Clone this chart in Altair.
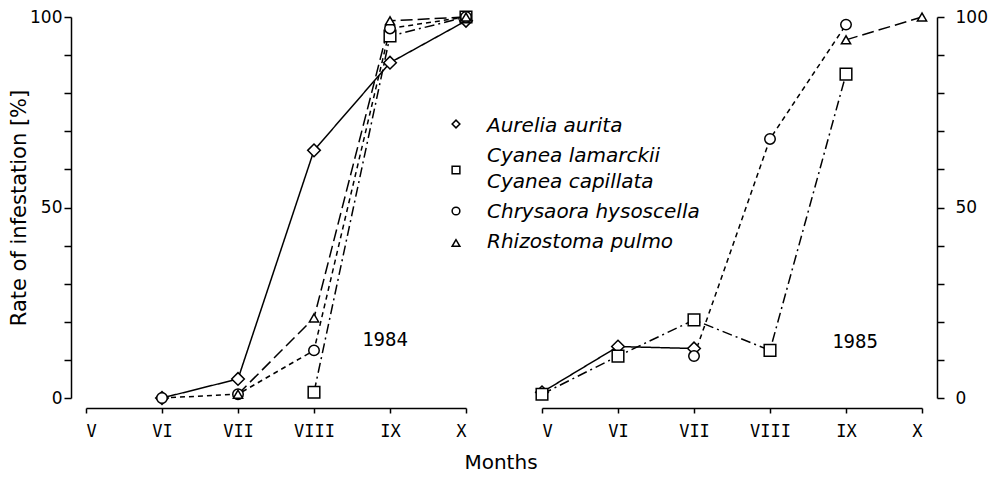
import altair as alt
import pandas as pd

# ---------------- data ----------------
MONTH_LABELS = ["V", "VI", "VII", "VIII", "IX", "X"]
MONTH_NUM = [5, 6, 7, 8, 9, 10]
SPECIES = ["Aurelia aurita", "Cyanea", "Chrysaora hysoscella", "Rhizostoma pulmo"]
LEGEND_LABELS = ["Aurelia aurita", "Cyanea lamarckii", "Cyanea capillata",
                 "Chrysaora hysoscella", "Rhizostoma pulmo"]

# values per month V..X (None = no observation)
aurelia_1984 = [None, 0, 5, 65, 88, 99]
cyanea_1984 = [None, None, None, 1.5, 95, 100]
chrysaora_1984 = [None, 0, 1, 12.5, 97, 100]
rhizostoma_1984 = [None, None, 1, 21, 99, 100]

aurelia_1985 = [1.5, 13.5, 13, None, None, None]
cyanea_1985 = [1, 11, 20.5, 12.5, 85, None]
chrysaora_1985 = [None, None, 11, 68, 98, None]
rhizostoma_1985 = [None, None, None, None, 94, 100]

SERIES = {
    1984: [aurelia_1984, cyanea_1984, chrysaora_1984, rhizostoma_1984],
    1985: [aurelia_1985, cyanea_1985, chrysaora_1985, rhizostoma_1985],
}

rows = []
for year, lists in SERIES.items():
    for sp, vals in zip(SPECIES, lists):
        for m, v in zip(MONTH_NUM, vals):
            if v is not None:
                rows.append({"year": year, "species": sp, "month": m, "value": v})
df = pd.DataFrame(rows)

# ---------------- styles ----------------
SHAPES = ["diamond", "square", "circle", "triangle-up"]
SIZES = [160, 85, 64, 110]
DASHES = [[1, 0], [10, 4, 2, 4], [5, 4], [12, 5]]
W, H = 380, 381
SANS = "DejaVu Sans"
MONO = "DejaVu Sans Mono"

month_expr = "['V','VI','VII','VIII','IX','X'][datum.value - 5]"
one = pd.DataFrame({"a": [0]})

AX = dict(domain=True, domainColor="black", domainWidth=1.5, ticks=True,
          tickColor="black", tickWidth=1.5, labelColor="black", grid=False)


def panel(year, y_orient, year_pos):
    d = df[df.year == year]
    x = alt.X("month:Q", scale=alt.Scale(domain=[5, 10], nice=False, zero=False),
              axis=alt.Axis(values=MONTH_NUM, labelExpr=month_expr, title=None,
                            offset=10, tickSize=5, labelFont=MONO,
                            labelFontSize=17, labelPadding=10, **AX))
    yaxis = alt.Axis(values=list(range(0, 101, 10)), orient=y_orient,
                     labelExpr="datum.value % 50 == 0 ? datum.label : ''",
                     offset=15, tickSize=7, labelFont=SANS,
                     labelFontSize=17, labelPadding=2 if y_orient == "left" else 11,
                     title="Rate of infestation [%]" if y_orient == "left" else None,
                     titleFont=SANS, titleFontSize=21, titleFontWeight="normal",
                     titleColor="black", titlePadding=0, **AX)
    y = alt.Y("value:Q", scale=alt.Scale(domain=[0, 100], nice=False), axis=yaxis)
    base = alt.Chart(d)
    lines = base.mark_line(color="black", strokeWidth=1.5).encode(
        x=x, y=y,
        strokeDash=alt.StrokeDash("species:N", scale=alt.Scale(domain=SPECIES, range=DASHES),
                                  legend=None),
        detail="species:N",
    )
    pts = base.mark_point(fill="white", stroke="black", strokeWidth=1.5,
                          fillOpacity=1, opacity=1).encode(
        x=x, y=y,
        shape=alt.Shape("species:N", scale=alt.Scale(domain=SPECIES, range=SHAPES), legend=None),
        size=alt.Size("species:N", scale=alt.Scale(domain=SPECIES, range=SIZES), legend=None),
    )
    yr = alt.Chart(one).mark_text(text=str(year), font=MONO, fontSize=19,
                                  color="black").encode(
        x=alt.value(year_pos[0]), y=alt.value(year_pos[1]))
    return [lines, pts, yr]


left_layers = panel(1984, "left", (299, 323))
right_layers = panel(1985, "right", (313, 325))

# legend drawn by hand (inside the left panel)
leg_sym_y = [107, 153, 194, 226]
for shp, sy in zip(SHAPES, leg_sym_y):
    left_layers.append(
        alt.Chart(one).mark_point(shape=shp, size=60, fill="white", stroke="black",
                                  strokeWidth=1.5, fillOpacity=1, opacity=1)
        .encode(x=alt.value(370), y=alt.value(sy)))
leg_txt_y = [109, 139, 165, 195, 225]
for lab, ty in zip(LEGEND_LABELS, leg_txt_y):
    left_layers.append(
        alt.Chart(one).mark_text(text=lab, font=SANS, fontSize=20, fontStyle="italic",
                                 align="left", baseline="middle", color="black")
        .encode(x=alt.value(401), y=alt.value(ty)))

left = alt.layer(*left_layers).properties(width=W, height=H)
right = alt.layer(*right_layers).properties(width=W, height=H)

chart = alt.hconcat(left, right, spacing=76, bounds="flush").properties(
    title=alt.TitleParams("Months", orient="bottom", anchor="middle", font=SANS,
                          fontSize=20, fontWeight="normal", offset=14, dx=3, color="black"),
    padding={"left": 0, "top": 0, "right": 0, "bottom": 0},
    background="white",
).configure_view(stroke=None, strokeWidth=0)

chart.save("out.html", embed_options={"renderer": "svg", "actions": False})
